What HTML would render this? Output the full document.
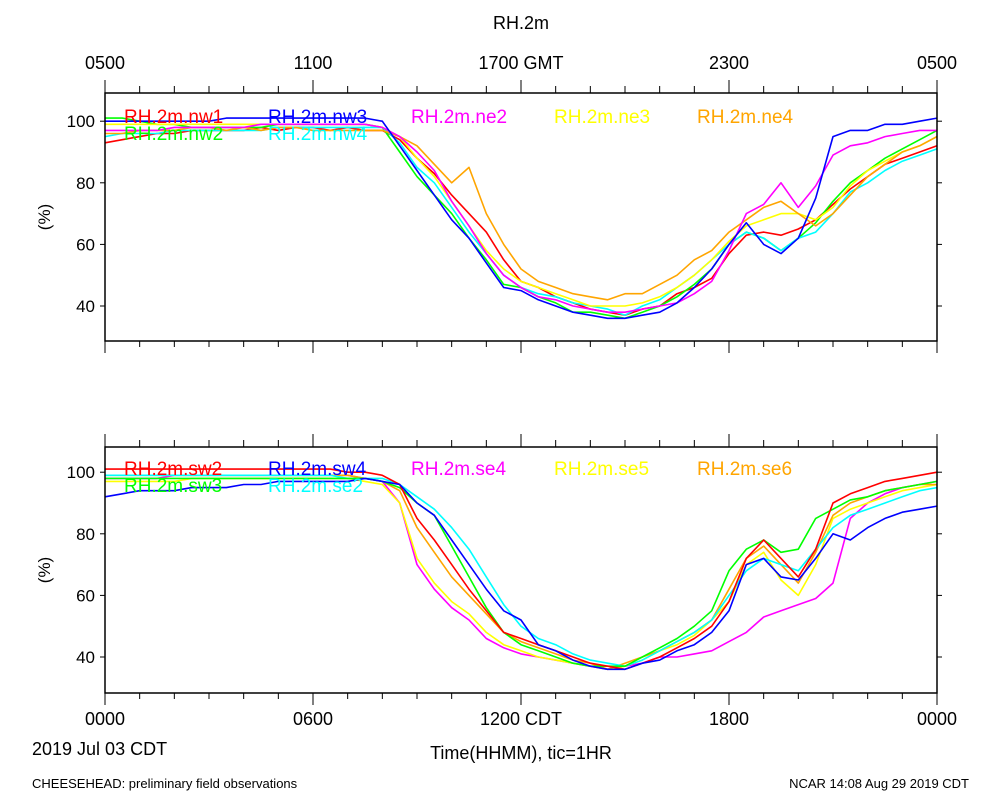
<!DOCTYPE html>
<html><head><meta charset="utf-8"><style>
body{margin:0;background:#fff;}
svg{display:block;font-family:"Liberation Sans",sans-serif;}
</style></head><body>
<svg id="c" width="1000" height="800" viewBox="0 0 1000 800"></svg>
<script>
// data: hourly-half values (0,0.5,...,24 h CDT)
const hours = Array.from({length:49},(_,i)=>i/2);
const nw1=[93,94,95,96,96,97,97,97,97,98,97,98,98,97,98,97,97, 94,88,83,76,70,64,55,48,46,43,41,39,38,37,39,40, 44,46,49,57,63,64,63,65,68,73,78,82,86,88,90,92];
const nw2=[101,101,100,99,99,98,98,98,98,98,99,99,99,99,99,99,98, 90,82,76,70,62,55,47,46,43,41,38,38,37,36,38,40, 43,47,52,60,64,62,58,62,67,74,80,84,88,91,94,97];
const nw3=[100,100,100,100,100,100,100,101,101,101,101,101,101,101,101,101,100, 92,84,76,68,62,54,46,45,42,40,38,37,36,36,37,38, 41,46,52,60,67,60,57,62,75,95,97,97,99,99,100,101];
const nw4=[95,96,96,96,97,97,97,97,97,97,98,98,98,98,98,98,98, 93,85,80,72,64,57,50,46,44,43,41,40,39,37,40,42, 46,50,55,60,64,62,58,62,64,70,77,80,84,87,89,91];
const ne2=[97,97,97,97,98,98,98,98,98,99,99,99,99,99,99,99,98, 95,90,84,74,66,57,50,46,43,42,40,39,38,38,39,40, 41,44,48,58,70,73,80,72,79,89,92,93,95,96,97,97];
const ne3=[99,99,99,99,99,99,99,99,99,99,99,99,99,99,99,99,98, 95,88,82,74,66,58,52,48,46,44,42,40,40,40,41,43, 46,50,55,61,66,68,70,70,68,72,79,84,87,90,92,95];
const ne4=[96,96,97,97,97,98,98,97,98,97,98,98,97,97,97,97,97, 95,92,86,80,85,70,60,52,48,46,44,43,42,44,44,47, 50,55,58,64,68,72,74,70,66,70,76,82,86,90,92,95];
const sw2=[101,101,101,101,101,101,101,101,101,101,101,101,101,101,100,100,99, 96,85,78,70,62,55,48,46,44,42,40,38,37,36,38,40, 43,46,50,58,72,78,72,66,75,90,93,95,97,98,99,100];
const sw3=[98,98,98,98,98,98,98,98,98,98,98,98,98,98,98,98,97, 95,90,86,76,66,56,48,44,42,40,38,37,37,37,40,43, 46,50,55,68,75,78,74,75,85,88,91,92,94,95,96,97];
const sw4=[92,93,94,94,94,95,95,95,96,96,97,97,97,97,97,98,97, 96,90,86,78,70,62,55,52,44,42,39,37,36,36,38,39, 42,44,48,55,70,72,66,65,72,80,78,82,85,87,88,89];
const se2=[99,99,99,99,99,99,99,99,99,99,99,99,99,99,98,98,98, 96,92,88,82,75,66,57,50,46,44,41,39,38,37,39,42, 45,48,52,60,68,72,70,68,75,82,86,88,90,92,94,95];
const se4=[98,98,98,98,99,99,99,99,99,99,99,99,99,99,99,98,97, 90,70,62,56,52,46,43,41,40,39,38,37,36,37,38,40, 40,41,42,45,48,53,55,57,59,64,85,90,93,95,96,97];
const se5=[97,97,97,97,97,98,98,98,98,98,98,98,98,98,98,97,96, 90,72,64,58,54,48,44,42,40,39,38,37,36,37,39,42, 44,47,52,58,70,74,65,60,70,85,88,90,92,94,95,96];
const se6=[99,99,99,99,99,99,99,99,99,99,99,99,99,99,99,98,97, 94,82,74,66,60,54,48,45,43,41,39,38,36,38,40,42, 45,48,52,62,72,76,70,64,74,86,90,92,94,95,96,96];
const yTicks=[40,60,80,100];
const topLabels=["0500","1100","1700 GMT","2300","0500"];
const botLabels=["0000","0600","1200 CDT","1800","0000"];

const NS="http://www.w3.org/2000/svg";
const svg=document.getElementById('c');
function mk(tag,attrs,parent){const e=document.createElementNS(NS,tag);for(const k in attrs)e.setAttribute(k,attrs[k]);(parent||svg).appendChild(e);return e;}
const X0=105,X1=937;
const xs=h=>X0+(X1-X0)*h/24;
function panel(top,bottom,y40,series,legend,name,topTicks){
  const g=mk('g',{});
  
  
  const ys=v=>y40-(v-40)*3.08;
  series.forEach(s=>{
    const d=s.data.map((v,i)=>(i?'L':'M')+xs(hours[i]).toFixed(1)+' '+ys(v).toFixed(1)).join(' ');
    const p=mk('path',{d:d,fill:'none',stroke:s.color,'stroke-width':1.6,'stroke-linejoin':'round'},g);
    
    
  });
  const r=mk('rect',{x:X0,y:top,width:X1-X0,height:bottom-top,fill:'none',stroke:'#000','stroke-width':1.5},g);
  
  
  for(let h=0;h<=24;h++){
    const maj=h%6===0;
    mk('line',{x1:xs(h),x2:xs(h),y1:bottom,y2:bottom+(maj?12:6),stroke:'#000','stroke-width':1},g);
    if(topTicks) mk('line',{x1:xs(h),x2:xs(h),y1:top,y2:top-(maj?13:7),stroke:'#000','stroke-width':1},g);
  }
  yTicks.forEach(v=>{
    mk('line',{x1:X0-5,x2:X0,y1:ys(v),y2:ys(v),stroke:'#000'},g);
    mk('line',{x1:X1,x2:X1+5,y1:ys(v),y2:ys(v),stroke:'#000'},g);
    const t=mk('text',{x:X0-10,y:ys(v)+6,'text-anchor':'end','font-size':17},g);
    t.textContent=v;
    
    
  });
  const yl=mk('text',{x:0,y:0,'font-size':17,'text-anchor':'middle',transform:`translate(50,${(top+bottom)/2}) rotate(-90)`},g);
  yl.textContent='(%)';
  
  
  legend.forEach(l=>{
    const t=mk('text',{x:l[1],y:l[2],fill:l[3],'font-size':19},g);
    t.textContent=l[0];
    
    
  });
}
panel(93,341,306,[
 {name:'nw1',data:nw1,color:'#ff0000'},{name:'nw2',data:nw2,color:'#00ff00'},
 {name:'nw4',data:nw4,color:'#00ffff'},{name:'ne3',data:ne3,color:'#ffff00'},
 {name:'ne4',data:ne4,color:'#ffa500'},{name:'ne2',data:ne2,color:'#ff00ff'},
 {name:'nw3',data:nw3,color:'#0000ff'}],
 [['RH.2m.nw1',124,123,'#ff0000'],['RH.2m.nw3',268,123,'#0000ff'],['RH.2m.ne2',411,123,'#ff00ff'],['RH.2m.ne3',554,123,'#ffff00'],['RH.2m.ne4',697,123,'#ffa500'],
  ['RH.2m.nw2',124,140,'#00ff00'],['RH.2m.nw4',268,140,'#00ffff']],'top-panel',true);
panel(447,693,657,[
 {name:'se4',data:se4,color:'#ff00ff'},{name:'se5',data:se5,color:'#ffff00'},
 {name:'se6',data:se6,color:'#ffa500'},{name:'se2',data:se2,color:'#00ffff'},
 {name:'sw3',data:sw3,color:'#00ff00'},{name:'sw2',data:sw2,color:'#ff0000'},
 {name:'sw4',data:sw4,color:'#0000ff'}],
 [['RH.2m.sw2',124,475,'#ff0000'],['RH.2m.sw4',268,475,'#0000ff'],['RH.2m.se4',411,475,'#ff00ff'],['RH.2m.se5',554,475,'#ffff00'],['RH.2m.se6',697,475,'#ffa500'],
  ['RH.2m.sw3',124,492,'#00ff00'],['RH.2m.se2',268,492,'#00ffff']],'bottom-panel',true);
topLabels.forEach((s,i)=>{const t=mk('text',{x:xs(i*6),y:69,'text-anchor':'middle','font-size':18});t.textContent=s;
 
 });
botLabels.forEach((s,i)=>{const t=mk('text',{x:xs(i*6),y:725,'text-anchor':'middle','font-size':18});t.textContent=s;
 
 });
function txt(s,x,y,sz,anchor,name){const t=mk('text',{x:x,y:y,'font-size':sz,'text-anchor':anchor});t.textContent=s;
 
 }
txt('RH.2m',521,29,18,'middle','chart-title');
txt('2019 Jul 03 CDT',32,755,18,'start','date-label');
txt('Time(HHMM), tic=1HR',521,759,18,'middle','x-axis-title');
txt('CHEESEHEAD: preliminary field observations',32,788,13,'start','footer-left');
txt('NCAR 14:08 Aug 29 2019 CDT',969,788,13,'end','footer-right');
</script>
</body></html>
